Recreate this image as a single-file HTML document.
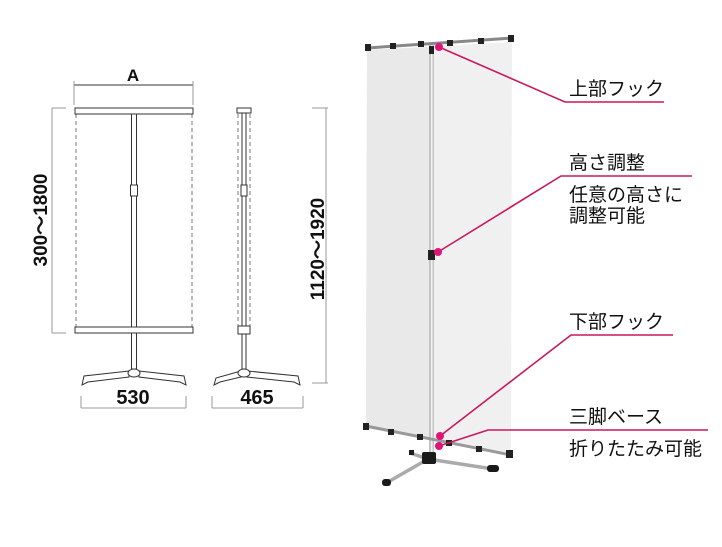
<!DOCTYPE html>
<html><head><meta charset="utf-8"><style>
html,body{margin:0;padding:0;background:#fff;}
svg{display:block;}
.d{font-family:"Liberation Sans",sans-serif;font-weight:bold;fill:#111;}
.j{font-family:"Liberation Sans","Noto Sans CJK JP",sans-serif;fill:#111;font-size:19px;}
</style></head><body>
<svg width="722" height="547" viewBox="0 0 722 547" xmlns="http://www.w3.org/2000/svg">
<!-- front view -->
<g stroke="#333" stroke-width="1" fill="#fff">
 <line x1="74" y1="85" x2="193" y2="85"/>
 <line x1="74" y1="81" x2="74" y2="105" stroke="#999"/>
 <line x1="193" y1="81" x2="193" y2="105" stroke="#999"/>
 <line x1="52" y1="108" x2="52" y2="333" stroke="#999"/>
 <line x1="52" y1="108" x2="66" y2="108" stroke="#999"/>
 <line x1="52" y1="333" x2="66" y2="333" stroke="#999"/>
 <line x1="76" y1="114" x2="76" y2="327" stroke-dasharray="4,3" stroke="#777"/>
 <line x1="192" y1="114" x2="192" y2="327" stroke-dasharray="4,3" stroke="#777"/>
 <rect x="131.5" y="114" width="5" height="255"/>
 <rect x="130.5" y="185" width="7" height="11"/>
 <rect x="75" y="108" width="118" height="6"/>
 <rect x="75" y="327" width="118" height="6"/>
 <path d="M129 371 L84 376 L82 385 L88 382 L129 377 Z"/>
 <path d="M139 371 L184 376 L186 385 L180 382 L139 377 Z"/>
 <ellipse cx="134" cy="373" rx="6" ry="4"/>
 <line x1="81" y1="408" x2="186" y2="408" stroke="#999"/>
 <line x1="81" y1="396" x2="81" y2="408" stroke="#999"/>
 <line x1="186" y1="396" x2="186" y2="408" stroke="#999"/>
</g>
<!-- side view -->
<g stroke="#333" stroke-width="1" fill="#fff">
 <line x1="238" y1="114" x2="238" y2="327" stroke-dasharray="4,3" stroke="#777"/>
 <line x1="250" y1="114" x2="250" y2="327" stroke-dasharray="4,3" stroke="#777"/>
 <rect x="242" y="113" width="4" height="256"/>
 <rect x="241" y="185" width="6" height="11"/>
 <rect x="237" y="108" width="14" height="5"/>
 <rect x="238" y="326" width="12" height="8"/>
 <path d="M241 371 L216 378 L214 385 L220 382 L241 377 Z"/>
 <path d="M247 371 L298 376 L300 385 L294 382 L247 377 Z"/>
 <ellipse cx="244" cy="373" rx="6" ry="4"/>
 <line x1="326" y1="108" x2="326" y2="383" stroke="#999"/>
 <line x1="312" y1="108" x2="328" y2="108" stroke="#999"/>
 <line x1="312" y1="383" x2="328" y2="383" stroke="#999"/>
 <line x1="212" y1="408" x2="303" y2="408" stroke="#999"/>
 <line x1="212" y1="396" x2="212" y2="408" stroke="#999"/>
 <line x1="303" y1="396" x2="303" y2="408" stroke="#999"/>
</g>
<text class="d" x="133" y="81" font-size="17" text-anchor="middle">A</text>
<text class="d" x="133" y="404" font-size="20" text-anchor="middle">530</text>
<text class="d" x="257" y="404" font-size="20" text-anchor="middle">465</text>
<text class="d" font-size="19" text-anchor="middle" transform="translate(47,220) rotate(-90)">300〜1800</text>
<text class="d" font-size="19" text-anchor="middle" transform="translate(324,249) rotate(-90)">1120〜1920</text>
<!-- stand photo -->
<polygon points="367,50 512,42 511,455 366,428" fill="#f0f0f0"/>
<polygon points="367,50 430,47 430,440 366,428" fill="#e9e9e9"/>
<rect x="429" y="45" width="5" height="415" fill="#c4c4c4"/>
<rect x="431" y="45" width="1.5" height="415" fill="#f2f2f2"/>
<line x1="367" y1="48" x2="512" y2="38" stroke="#888" stroke-width="3"/>
<g fill="#222">
 <rect x="365" y="44" width="6" height="7"/><rect x="390" y="43" width="6" height="6"/>
 <rect x="418" y="41" width="6" height="6"/><rect x="447" y="40" width="6" height="6"/>
 <rect x="478" y="38" width="6" height="6"/><rect x="508" y="35" width="6" height="7"/>
 <rect x="429" y="46" width="5" height="8"/>
 <rect x="428" y="250" width="7" height="10"/>
</g>
<line x1="366" y1="426" x2="511" y2="455" stroke="#999" stroke-width="3"/>
<g fill="#222">
 <rect x="363" y="423" width="6" height="7"/><rect x="388" y="429" width="6" height="6"/>
 <rect x="417" y="434" width="6" height="6"/><rect x="446" y="440" width="6" height="6"/>
 <rect x="476" y="446" width="6" height="6"/><rect x="506" y="450" width="7" height="8"/>
</g>
<g stroke="#aaa" stroke-width="3.5">
 <line x1="428" y1="459" x2="410" y2="453"/>
 <line x1="428" y1="459" x2="388" y2="482"/>
 <line x1="428" y1="459" x2="493" y2="469"/>
</g>
<g fill="#1a1a1a">
 <rect x="422" y="452" width="14" height="12" rx="2"/>
 <rect x="409" y="450" width="5" height="5"/>
 <rect x="382" y="479" width="9" height="7" rx="3"/>
 <rect x="487" y="465" width="12" height="7" rx="3"/>
</g>
<!-- pink callouts -->
<g stroke="#c8185f" stroke-width="1.6" fill="none">
 <polyline points="439,47 565,102 664,102"/>
 <polyline points="438,252 561,176 692,176"/>
 <polyline points="440,436 571,335 673,335"/>
 <polyline points="439,446 488,430 708,430"/>
</g>
<g fill="#e0157a">
 <circle cx="439" cy="47" r="4"/><circle cx="438" cy="252" r="4"/>
 <circle cx="440" cy="436" r="4"/><circle cx="439" cy="446" r="4"/>
</g>
<text class="j" x="569" y="95">上部フック</text>
<text class="j" x="569" y="169">高さ調整</text>
<text class="j" x="569" y="201">任意の高さに</text>
<text class="j" x="569" y="222">調整可能</text>
<text class="j" x="569" y="328">下部フック</text>
<text class="j" x="569" y="423">三脚ベース</text>
<text class="j" x="569" y="455">折りたたみ可能</text>
</svg>
</body></html>
